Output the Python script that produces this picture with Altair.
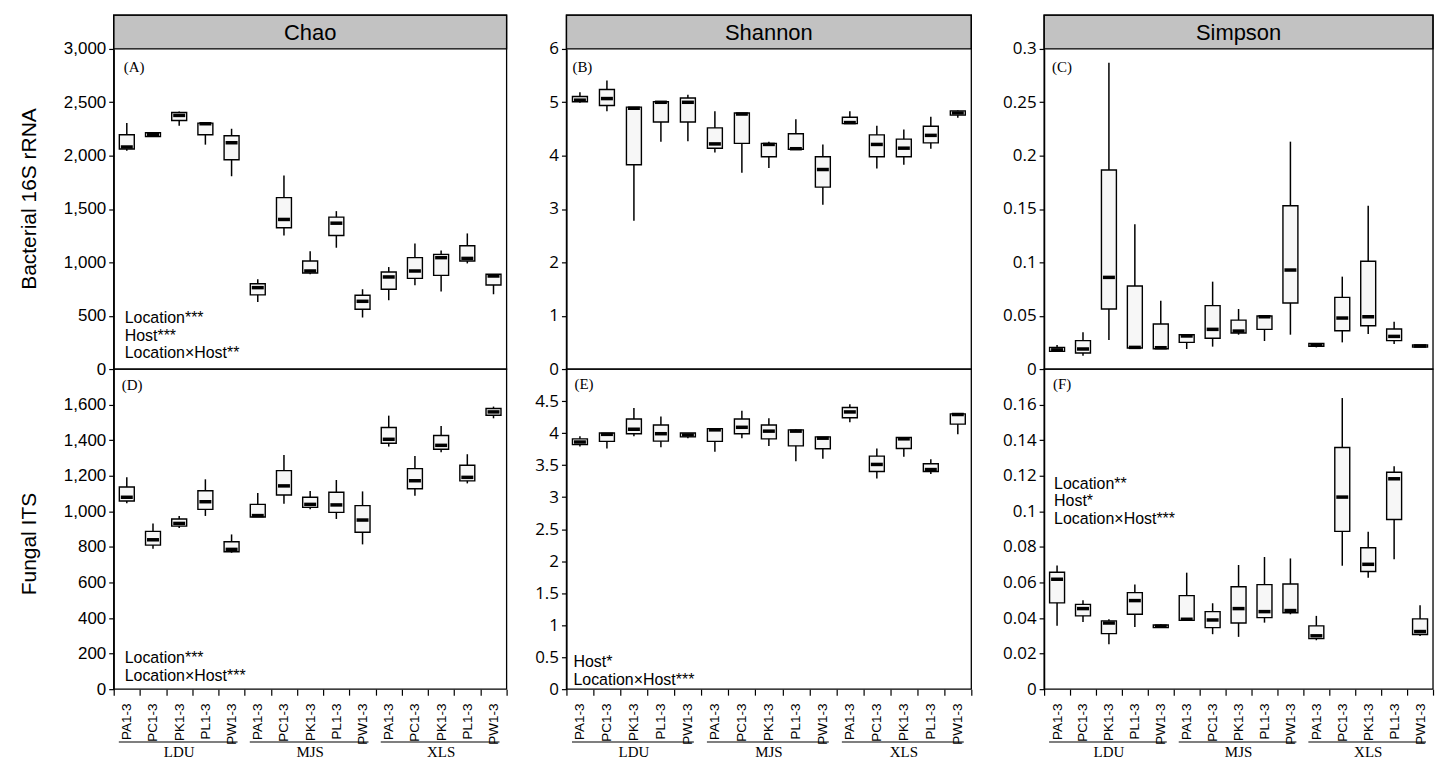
import altair as alt
import pandas as pd

hosts = ["PA1-3", "PC1-3", "PK1-3", "PL1-3", "PW1-3"]
locations = ["LDU", "MJS", "XLS"]
metrics = ["Chao", "Shannon", "Simpson"]
row_titles = ["Bacterial 16S rRNA", "Fungal ITS"]
panel_tags = ["(A)", "(B)", "(C)", "(D)", "(E)", "(F)"]

# ---- (A) Chao, bacterial 16S rRNA
chao16_max = [2305, 2220, 2414, 2305, 2252, 841, 1813, 1103, 1480, 748, 956, 1177, 1112, 1271, 888]
chao16_q3 = [2196, 2215, 2405, 2305, 2187, 800, 1607, 1012, 1424, 692, 910, 1044, 1075, 1156, 888]
chao16_med = [2081, 2196, 2377, 2299, 2121, 763, 1402, 919, 1367, 635, 863, 919, 1044, 1037, 872]
chao16_q1 = [2062, 2180, 2330, 2196, 1962, 695, 1324, 900, 1252, 561, 748, 850, 878, 1012, 788]
chao16_min = [2047, 2175, 2280, 2103, 1807, 629, 1252, 888, 1137, 483, 645, 785, 726, 990, 701]

# ---- (B) Shannon, bacterial 16S rRNA
shan16_max = [5.19, 5.41, 4.91, 5.01, 5.14, 4.83, 4.80, 4.26, 4.68, 4.21, 4.83, 4.56, 4.49, 4.73, 4.85]
shan16_q3 = [5.11, 5.24, 4.91, 5.01, 5.08, 4.52, 4.80, 4.23, 4.41, 3.98, 4.72, 4.39, 4.31, 4.55, 4.84]
shan16_med = [5.04, 5.07, 4.89, 5.00, 5.00, 4.22, 4.78, 4.21, 4.13, 3.74, 4.62, 4.21, 4.14, 4.38, 4.80]
shan16_q1 = [5.01, 4.94, 3.83, 4.63, 4.63, 4.14, 4.23, 3.98, 4.12, 3.41, 4.60, 3.98, 3.98, 4.24, 4.76]
shan16_min = [4.99, 4.83, 2.78, 4.26, 4.27, 4.06, 3.68, 3.77, 4.11, 3.08, 4.60, 3.76, 3.83, 4.13, 4.71]

# ---- (C) Simpson, bacterial 16S rRNA
simp16_max = [0.0225, 0.0344, 0.287, 0.1356, 0.064, 0.0328, 0.0819, 0.0563, 0.0497, 0.2131, 0.024, 0.0866, 0.1531, 0.0444, 0.0225]
simp16_q3 = [0.0203, 0.0266, 0.1866, 0.0778, 0.0422, 0.0322, 0.0594, 0.0459, 0.0497, 0.1531, 0.024, 0.0672, 0.101, 0.0375, 0.0225]
simp16_med = [0.018, 0.0188, 0.0859, 0.0203, 0.020, 0.031, 0.0372, 0.0356, 0.049, 0.0928, 0.0228, 0.0478, 0.049, 0.0306, 0.0216]
simp16_q1 = [0.0166, 0.015, 0.0563, 0.0197, 0.019, 0.025, 0.0288, 0.0338, 0.0372, 0.0619, 0.0213, 0.0359, 0.0406, 0.0266, 0.0206]
simp16_min = [0.0166, 0.0125, 0.0272, 0.0197, 0.019, 0.0188, 0.021, 0.0322, 0.0263, 0.0322, 0.0203, 0.025, 0.0328, 0.0234, 0.0206]

# ---- (D) Chao, fungal ITS
chaoits_max = [1191, 932, 974, 1180, 870, 1103, 1317, 1114, 1176, 1112, 1538, 1311, 1480, 1321, 1589]
chaoits_q3 = [1137, 887, 957, 1116, 829, 1039, 1229, 1079, 1107, 1032, 1471, 1240, 1426, 1259, 1578]
chaoits_med = [1079, 840, 932, 1054, 786, 976, 1143, 1039, 1036, 951, 1405, 1172, 1371, 1191, 1559]
chaoits_q1 = [1058, 810, 917, 1011, 773, 968, 1092, 1022, 994, 882, 1383, 1127, 1349, 1171, 1540]
chaoits_min = [1045, 790, 906, 974, 767, 968, 1043, 1011, 957, 814, 1364, 1088, 1332, 1157, 1523]

# ---- (E) Shannon, fungal ITS
shanits_max = [3.95, 4.00, 4.39, 4.26, 4.00, 4.08, 4.35, 4.23, 4.06, 3.94, 4.45, 3.76, 3.94, 3.59, 4.31]
shanits_q3 = [3.91, 4.00, 4.22, 4.125, 4.00, 4.07, 4.22, 4.125, 4.05, 3.94, 4.40, 3.64, 3.93, 3.52, 4.30]
shanits_med = [3.86, 3.98, 4.06, 3.99, 3.97, 4.05, 4.09, 4.03, 4.03, 3.92, 4.33, 3.51, 3.91, 3.43, 4.29]
shanits_q1 = [3.82, 3.87, 3.99, 3.875, 3.94, 3.87, 3.99, 3.91, 3.80, 3.755, 4.24, 3.40, 3.76, 3.40, 4.14]
shanits_min = [3.79, 3.76, 3.95, 3.78, 3.92, 3.71, 3.92, 3.80, 3.56, 3.60, 4.17, 3.29, 3.63, 3.36, 3.98]

# ---- (F) Simpson, fungal ITS
simpits_max = [0.0696, 0.05, 0.0393, 0.0589, 0.0365, 0.0655, 0.0483, 0.0698, 0.0743, 0.0735, 0.0412, 0.1637, 0.0885, 0.1254, 0.0472]
simpits_q3 = [0.0657, 0.0477, 0.0384, 0.0543, 0.0361, 0.0526, 0.0436, 0.0576, 0.0588, 0.0591, 0.0356, 0.1359, 0.0795, 0.122, 0.0395]
simpits_med = [0.0618, 0.0453, 0.0372, 0.0498, 0.0354, 0.0393, 0.0389, 0.0453, 0.0436, 0.0442, 0.030, 0.108, 0.0702, 0.1183, 0.0324]
simpits_q1 = [0.0485, 0.0412, 0.0312, 0.0421, 0.0346, 0.0387, 0.0346, 0.0372, 0.0402, 0.043, 0.0284, 0.0887, 0.0662, 0.0954, 0.0307]
simpits_min = [0.0356, 0.0378, 0.0253, 0.035, 0.0346, 0.0387, 0.0309, 0.0294, 0.0374, 0.0421, 0.0275, 0.0694, 0.0627, 0.073, 0.0299]

# axis tick values
chao16_ticks = [0, 500, 1000, 1500, 2000, 2500, 3000]
shan16_ticks = [0, 1, 2, 3, 4, 5, 6]
simp16_ticks = [0, 0.05, 0.1, 0.15, 0.2, 0.25, 0.3]
chaoits_ticks = [0, 200, 400, 600, 800, 1000, 1200, 1400, 1600]
shanits_ticks = [0, 0.5, 1, 1.5, 2, 2.5, 3, 3.5, 4, 4.5]
simpits_ticks = [0, 0.02, 0.04, 0.06, 0.08, 0.1, 0.12, 0.14, 0.16]

stats_text = {
    "(A)": ["Location***", "Host***", "Location×Host**"],
    "(D)": ["Location***", "Location×Host***"],
    "(E)": ["Host*", "Location×Host***"],
    "(F)": ["Location**", "Host*", "Location×Host***"],
}

keys = [f"{loc} {h}" for loc in locations for h in hosts]

SANS = "Liberation Sans"
SERIF = "Liberation Serif"
CAL = "Open Sans"

TOP_H = 355
HEAD_H = 34
BOT_H = 321


def x_enc(field, bottom, w):
    scale = alt.Scale(type="band", range=[0, w], paddingInner=0, paddingOuter=0)
    if bottom:
        ax = alt.Axis(
            labelAngle=270, labelAlign="right", labelBaseline="middle",
            labelFont=SANS, labelFontSize=13.5, labelPadding=8,
            tickBand="extent", tickSize=6, domain=False,
            labelExpr="split(datum.label, ' ')[1]",
        )
        return alt.X(field, sort=keys, scale=scale, axis=ax, title=None)
    return alt.X(field, sort=keys, scale=scale, axis=None, title=None)


def panel(mx, q3, med, q1, mn, w, cell_w, bottom, domain, ticks, comma, font,
          ytitle, title_y, tag, tagpos, header, stats, statpos):
    h = BOT_H if bottom else TOP_H
    df = pd.DataFrame({"key": keys, "lo": mn, "q1": q1, "med": med, "q3": q3, "hi": mx})
    if bottom:
        yscale = alt.Scale(domain=domain, nice=False, zero=True)
    else:
        yscale = alt.Scale(domain=domain, range=[TOP_H, HEAD_H], nice=False, zero=True)
    lab = "format(datum.value, ',')" if comma else "'' + datum.value"
    axis_kw = dict(values=ticks, tickCount=len(ticks) + 2, labelExpr=lab,
                   labelFont=font, labelFontSize=17, labelOverlap=False,
                   labelSeparation=0, tickSize=5, grid=False, labelPadding=3)
    if ytitle:
        axis_kw.update(titleFont=SANS, titleFontSize=21, titleFontWeight="normal",
                       titlePadding=24, titleY=title_y)
    yaxis = alt.Axis(**axis_kw)
    y_main = alt.Y("lo:Q", scale=yscale, axis=yaxis, title=ytitle if ytitle else None)

    whisk = alt.Chart(df).mark_rule(color="black", strokeWidth=1.5).encode(
        x=x_enc("key:N", bottom, w), y=y_main, y2="hi:Q")
    box = alt.Chart(df).mark_bar(size=15, fill="#f7f7f7", stroke="black",
                                 strokeWidth=1.4).encode(
        x=x_enc("key:N", bottom, w), y="q1:Q", y2="q3:Q")
    mid = alt.Chart(df).mark_tick(color="black", opacity=1, thickness=3.5, size=12).encode(
        x=x_enc("key:N", bottom, w), y="med:Q")
    layers = [whisk, box, mid]

    one = pd.DataFrame({"z": [0]})
    if header:
        layers.append(alt.Chart(one).mark_rect(fill="#c2c2c2", stroke="black",
                                               strokeWidth=1.3).encode(
            x=alt.value(0), x2=alt.value(w), y=alt.value(0), y2=alt.value(HEAD_H)))
        layers.append(alt.Chart(one).mark_text(font=SANS, fontSize=22, align="center",
                                               baseline="middle", color="black").encode(
            x=alt.value(w / 2), y=alt.value(HEAD_H / 2 + 1), text=alt.value(header)))
    layers.append(alt.Chart(one).mark_text(font=SERIF, fontSize=15, align="left",
                                           baseline="alphabetic", color="black").encode(
        x=alt.value(tagpos[0]), y=alt.value(tagpos[1]), text=alt.value(tag)))
    if stats:
        layers.append(alt.Chart(one).mark_text(font=SANS, fontSize=16, align="left",
                                               baseline="alphabetic", lineHeight=17.5,
                                               color="black").encode(
            x=alt.value(statpos[0]), y=alt.value(statpos[1]), text=alt.value(stats)))
    if bottom:
        gdf = pd.DataFrame({
            "start": [keys[0], keys[5], keys[10]],
            "end": [keys[4], keys[9], keys[14]],
            "mid": [keys[2], keys[7], keys[12]],
            "name": locations,
        })
        layers.append(alt.Chart(gdf).mark_rule(color="black", strokeWidth=1.2,
                                               xOffset=-8, x2Offset=6).encode(
            x=x_enc("start:N", True, w), x2="end:N", y=alt.value(h + 53)))
        layers.append(alt.Chart(gdf).mark_text(font=SERIF, fontSize=15, align="center",
                                               baseline="alphabetic", color="black").encode(
            x=x_enc("mid:N", True, w), y=alt.value(h + 68), text="name:N"))
    # panel frame
    layers.append(alt.Chart(one).mark_rect(filled=False, color="black",
                                           strokeWidth=1.3).encode(
        x=alt.value(0), x2=alt.value(w), y=alt.value(0), y2=alt.value(h)))
    return alt.layer(*layers).properties(width=cell_w, height=h)


pA = panel(chao16_max, chao16_q3, chao16_med, chao16_q1, chao16_min, 394, 454, False,
           [0, 3000], chao16_ticks, True, SANS, row_titles[0], 184, panel_tags[0],
           (10, 57), metrics[0], stats_text["(A)"], (11, 309))
pB = panel(shan16_max, shan16_q3, shan16_med, shan16_q1, shan16_min, 406, 479, False,
           [0, 6], shan16_ticks, False, CAL, None, None, panel_tags[1], (6, 57),
           metrics[1], None, None)
pC = panel(simp16_max, simp16_q3, simp16_med, simp16_q1, simp16_min, 390, 390, False,
           [0, 0.3], simp16_ticks, False, CAL, None, None, panel_tags[2], (8, 57),
           metrics[2], None, None)
pD = panel(chaoits_max, chaoits_q3, chaoits_med, chaoits_q1, chaoits_min, 394, 454, True,
           [0, 1800], chaoits_ticks, True, SANS, row_titles[1], 175, panel_tags[3],
           (8, 21), None, stats_text["(D)"], (11, 295))
pE = panel(shanits_max, shanits_q3, shanits_med, shanits_q1, shanits_min, 406, 479, True,
           [0, 5], shanits_ticks, False, CAL, None, None, panel_tags[4], (8, 20),
           None, stats_text["(E)"], (7, 299))
pF = panel(simpits_max, simpits_q3, simpits_med, simpits_q1, simpits_min, 390, 390, True,
           [0, 0.18], simpits_ticks, False, CAL, None, None, panel_tags[5], (9, 20),
           None, stats_text["(F)"], (10, 120))

chart = alt.concat(pA, pB, pC, pD, pE, pF, columns=3,
                   spacing={"row": 0, "column": 0}, align="each", bounds="flush")
chart = chart.properties(padding={"left": 10, "top": 5, "right": 5, "bottom": 5})
chart = chart.configure_view(stroke="transparent", strokeWidth=0).configure_axis(
    domainColor="black", tickColor="black", labelColor="black", titleColor="black",
    domainWidth=1.3, tickWidth=1.2, grid=False)

chart.save("out.html", embed_options={"renderer": "svg", "actions": False})
